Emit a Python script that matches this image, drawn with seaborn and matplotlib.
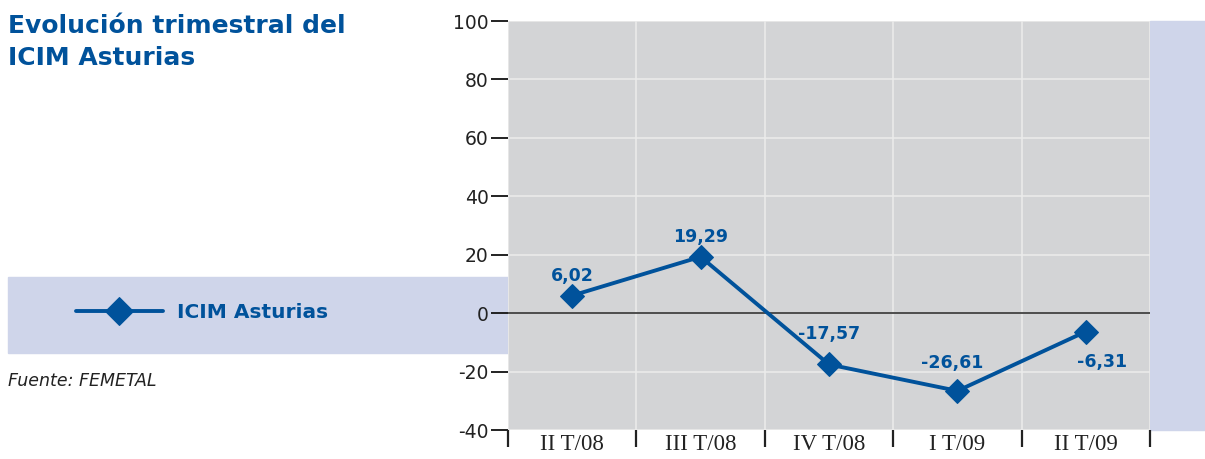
import matplotlib
matplotlib.use('Agg')
import matplotlib.pyplot as plt
from matplotlib.patches import Rectangle
import seaborn as sns
import pandas as pd

trimestres = ['II T/08', 'III T/08', 'IV T/08', 'I T/09', 'II T/09']
icim = [6.02, 19.29, -17.57, -26.61, -6.31]
etiquetas = ['6,02', '19,29', '-17,57', '-26,61', '-6,31']
y_ticks = [-40, -20, 0, 20, 40, 60, 80, 100]

azul = '#00529b'
lavanda = '#cfd5ea'
gris = '#d3d4d6'

sns.set_style('white')
plt.rcParams['font.family'] = ['DejaVu Sans']

df = pd.DataFrame({'pos': range(len(trimestres)), 'valor': icim})

fig = plt.figure(figsize=(12.05, 4.59), dpi=100)
W, H = 1205, 459
ax = fig.add_axes([508 / W, 1 - 430 / H, (1150 - 508) / W, (430 - 21) / H])

# bandas de fondo (detras de todo)
fig.patches.append(Rectangle((1150 / W, 1 - 430 / H), 1 - 1150 / W, 409 / H,
                             transform=fig.transFigure, color=lavanda, zorder=-1))
fig.patches.append(Rectangle((8 / W, 1 - 353 / H), 500 / W, 76 / H,
                             transform=fig.transFigure, color=lavanda, zorder=-1))

ax.set_facecolor(gris)
sns.lineplot(data=df, x='pos', y='valor', ax=ax, color=azul, linewidth=2.8,
             marker='D', markersize=12, markeredgecolor=azul, label='ICIM Asturias',
             zorder=5)
ax.axhline(0, color='#333333', linewidth=1.2, zorder=3)

ax.set_xlim(-0.5, len(trimestres) - 0.5)
ax.set_ylim(-40, 100)
ax.set_yticks(y_ticks)
ax.set_yticklabels([str(v) for v in y_ticks], fontsize=13.5, color='#222222')
ax.set_xticks([i - 0.5 for i in range(len(trimestres) + 1)])
ax.set_xticklabels([])
ax.set_xticks(range(len(trimestres)), minor=True)
ax.set_xticklabels(trimestres, minor=True, fontsize=16.5, family='Liberation Serif', color='#222222')
ax.tick_params(axis='x', which='major', direction='out', length=12.5, width=1.6, color='#222222', bottom=True)
ax.tick_params(axis='x', which='minor', length=0, pad=3)
ax.tick_params(axis='y', direction='out', length=12, width=1.4, color='#222222', left=True, pad=2)
ax.grid(True, which='major', color='#ececec', linewidth=1.1)
ax.set_axisbelow(True)
for s in ax.spines.values():
    s.set_visible(False)
ax.set_xlabel('')
ax.set_ylabel('')

offsets = [(0, 14), (0, 14), (0, 22), (-4, 20), (12, -22)]
for i, (v, t) in enumerate(zip(icim, etiquetas)):
    ax.annotate(t, (i, v), xytext=offsets[i], textcoords='offset points',
                ha='center', va='center', fontsize=12.5, fontweight='bold', color=azul, zorder=6)

handles, labels = ax.get_legend_handles_labels()
ax.get_legend().remove()
leg = fig.legend(handles, labels, loc='center left', bbox_to_anchor=(58 / W, 1 - 313 / H),
                 frameon=False, handlelength=4.3, handletextpad=0.7, markerscale=1.15,
                 prop={'size': 14.5, 'weight': 'bold'})
for txt in leg.get_texts():
    txt.set_color(azul)

fig.text(8 / W, 1 - 42 / H, 'Evolución trimestral del\nICIM Asturias', ha='left', va='center',
         fontsize=18, fontweight='bold', color=azul, linespacing=1.42)
fig.text(8 / W, 1 - 381 / H, 'Fuente: FEMETAL', ha='left', va='center',
         fontsize=12.5, style='italic', color='#222222')

fig.savefig('out.png', dpi=100)
